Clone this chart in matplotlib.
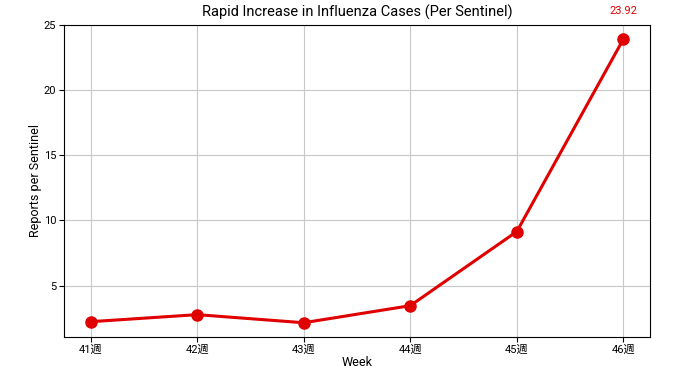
import matplotlib.pyplot as plt

plt.rcParams['font.family'] = ['Roboto', 'Noto Sans CJK JP']

weeks = ['41週', '42週', '43週', '44週', '45週', '46週']
reports = [2.23, 2.77, 2.15, 3.46, 9.15, 23.92]

fig = plt.figure(figsize=(6.8, 3.82), dpi=100)
ax = fig.add_axes([0.094, 0.118, 0.862, 0.817])

ax.plot(weeks, reports, '-o', color='#e00000', linewidth=2.2, markersize=8)
ax.annotate(f'{reports[-1]:.2f}', (weeks[-1], reports[-1]), xytext=(0, 18),
            textcoords='offset points', ha='center', color='#e00000', fontsize=8)

ax.set_title('Rapid Increase in Influenza Cases (Per Sentinel)', fontsize=10.5)
ax.set_xlabel('Week', fontsize=9, labelpad=1)
ax.set_ylabel('Reports per Sentinel', fontsize=9, labelpad=1)
ax.tick_params(labelsize=8, pad=2)
ax.grid(True, color='#c8c8c8', linewidth=0.8)

fig.savefig('out.png', dpi=100)
